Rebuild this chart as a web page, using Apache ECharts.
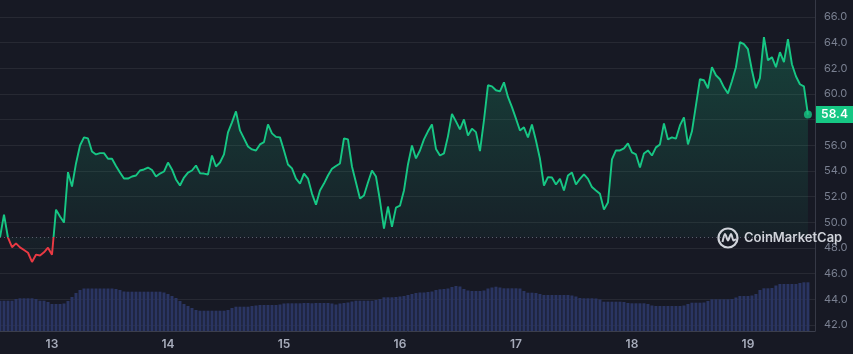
<!DOCTYPE html>
<html>
<head>
<meta charset="utf-8">
<title>Price chart</title>
<script src="https://cdn.jsdelivr.net/npm/echarts@6.0.0/dist/echarts.min.js"></script>
<style>
  html, body { margin: 0; padding: 0; background: #171924; }
  #main { width: 853px; height: 354px; }
</style>
</head>
<body>
<div id="main"></div>
<script>
// price, sampled evenly from first to last point
const prices = [
  48.83, 50.60, 48.80, 48.06, 48.36, 48.05, 47.84, 47.63, 46.91, 47.48,
  47.42, 47.66, 48.02, 47.48, 50.99, 50.45, 49.98, 53.91, 52.79, 54.59,
  55.99, 56.62, 56.54, 55.52, 55.29, 55.39, 55.39, 54.95, 54.95, 54.39,
  53.88, 53.41, 53.41, 53.57, 53.65, 54.04, 54.12, 54.27, 54.08, 53.57,
  53.80, 53.96, 54.66, 54.12, 53.34, 52.87, 53.49, 53.88, 54.04, 54.43,
  53.83, 53.80, 53.73, 55.21, 54.35, 54.66, 55.29, 57.01, 57.79, 58.65,
  57.16, 56.54, 55.91, 55.68, 55.60, 56.07, 56.25, 57.63, 56.93, 56.66,
  56.62, 55.60, 54.51, 54.20, 53.41, 53.02, 53.80, 53.41, 52.24, 51.38,
  52.48, 53.02, 53.65, 54.17, 54.39, 54.59, 56.54, 56.46, 54.35, 53.10,
  51.85, 52.09, 53.10, 54.04, 53.57, 51.70, 49.51, 51.23, 49.66, 51.15,
  51.30, 52.48, 54.51, 55.99, 54.98, 55.60, 56.46, 57.09, 57.63, 55.72,
  55.21, 55.37, 56.70, 58.45, 57.87, 57.24, 58.02, 56.77, 57.30, 57.03,
  55.55, 57.95, 60.68, 60.60, 60.29, 60.21, 60.91, 59.77, 58.98, 58.08,
  57.16, 57.40, 56.62, 57.63, 56.38, 54.95, 52.87, 53.52, 53.49, 52.95,
  53.39, 52.48, 53.65, 53.88, 52.95, 53.39, 53.73, 53.39, 52.75, 52.48,
  52.22, 50.99, 51.54, 54.90, 55.60, 55.60, 55.76, 56.15, 55.45, 55.29,
  54.27, 55.37, 55.60, 55.21, 55.84, 56.07, 57.71, 56.46, 56.62, 56.52,
  57.55, 58.18, 56.07, 57.09, 59.12, 61.15, 61.07, 60.45, 62.09, 61.46,
  61.15, 60.52, 60.05, 60.99, 62.09, 64.04, 63.88, 63.49, 61.85, 60.45,
  61.23, 64.43, 62.63, 62.87, 62.09, 63.26, 62.48, 64.27, 62.32, 61.38,
  60.76, 60.60, 58.40
]

// volume (relative units), same timestamps as prices
const volumes = [
  30.3, 30.3, 30.3, 30.3, 32, 32.7, 32.7, 32.7, 32.7, 32,
  30.3, 30.3, 29, 27, 27, 27, 27.5, 30, 34, 38,
  41, 42.5, 42.5, 42.5, 42.5, 42.5, 42.5, 42.5, 42.5, 42,
  41, 39.5, 39.3, 39.3, 39.3, 39.3, 39.3, 39.3, 39.3, 39.3,
  39.3, 38.5, 37, 35, 33, 30, 27, 25, 23, 21,
  20.3, 20.3, 20.3, 20.3, 20.3, 20.3, 20.3, 21, 23, 24.3,
  24.3, 24.3, 24.3, 25, 25.5, 26, 26, 26, 26, 26,
  26.5, 27.5, 27.7, 27.7, 27.7, 27.7, 28, 28, 27.7, 28,
  28, 28, 28, 27.5, 26.5, 27.5, 28, 28.5, 29.5, 30.3,
  30.3, 30.3, 30.3, 30.3, 31, 32, 33.7, 33.7, 33.7, 34,
  34.5, 35, 36, 37, 38, 38.5, 38.5, 39, 39.5, 41,
  41.7, 42, 42.5, 44, 45, 44.5, 42, 40.5, 40, 40,
  40, 40.5, 42.5, 43.5, 44.3, 43.5, 42.7, 42.7, 42.7, 42.7,
  42.5, 40, 38.3, 38.3, 38, 37, 36, 36, 36, 36,
  36, 36, 36, 35.5, 34.5, 33, 32.7, 32.7, 32.7, 32.5,
  31.5, 29.3, 29.3, 29.3, 29.3, 29.3, 29, 28, 27.7, 27.7,
  27.7, 27.7, 27, 25.5, 25, 25, 25, 25, 25, 25,
  25, 25.5, 27, 28.3, 28.3, 28.3, 28.5, 30, 31.7, 31.7,
  31.7, 31.7, 31.7, 32, 33.5, 35, 35, 35, 35.5, 37,
  41, 42.7, 42.7, 43, 45.5, 47, 47, 47, 47, 47,
  48, 48.7, 48.7
]

const dayLabels = [13, 14, 15, 16, 17, 18, 19]
const startDay = 12.552 // first sample (day of month)
const endDay = 19.517 // last sample
const axisEnd = 19.578 // right edge of the plot
const openPrice = prices[0]

const stepDay = (endDay - startDay) / (prices.length - 1)
const priceData = prices.map((p, i) => [startDay + i * stepDay, p])
const volumeData = volumes.map((v, i) => [startDay + i * stepDay, v])
const last = priceData[priceData.length - 1]

const chart = echarts.init(document.getElementById('main'))

const option = {
  backgroundColor: '#171924',
  animation: false,
  textStyle: { fontFamily: 'Inter' },
  grid: [
    // price area
    { left: 0, right: 38, top: 17, bottom: 29, outerBoundsMode: 'none' },
    // volume + frame
    { left: 0, right: 38, top: 0, bottom: 23, outerBoundsMode: 'none' }
  ],
  xAxis: [
    { type: 'value', gridIndex: 0, min: startDay, max: axisEnd, show: false },
    {
      type: 'value',
      gridIndex: 1,
      min: startDay,
      max: axisEnd,
      axisLine: { show: true, lineStyle: { color: '#3b3e4c' } },
      axisTick: { show: false },
      splitLine: { show: false },
      axisLabel: {
        customValues: dayLabels,
        color: '#a7acbb',
        fontSize: 12,
        fontWeight: 600,
        margin: 7
      }
    }
  ],
  yAxis: [
    {
      type: 'value',
      gridIndex: 0,
      position: 'right',
      min: 42,
      max: 66,
      interval: 2,
      axisLine: { show: false },
      axisTick: { show: false },
      splitLine: { lineStyle: { color: 'rgba(255,255,255,0.07)' } },
      axisLabel: {
        color: '#7a8091',
        fontSize: 11,
        margin: 9,
        formatter: v => v.toFixed(1)
      }
    },
    {
      type: 'value',
      gridIndex: 1,
      position: 'right',
      min: 0,
      max: 331,
      axisLine: { show: true, lineStyle: { color: '#363946' } },
      axisTick: { show: false },
      axisLabel: { show: false },
      splitLine: { show: false }
    }
  ],
  // red below the opening price, green above (finite bounds so the line gets colour stops)
  visualMap: {
    show: false,
    type: 'piecewise',
    seriesIndex: 0,
    dimension: 1,
    pieces: [
      { gte: 0, lt: openPrice, color: '#ea3943' },
      { gte: openPrice, lte: 1000, color: '#16c784' }
    ]
  },
  series: [
    {
      name: 'Price',
      type: 'line',
      xAxisIndex: 0,
      yAxisIndex: 0,
      data: priceData,
      showSymbol: false,
      lineStyle: { width: 1.9 },
      areaStyle: {
        origin: openPrice,
        color: new echarts.graphic.LinearGradient(0, 0, 0, 1, [
          { offset: 0, color: 'rgba(22,199,132,0.33)' },
          { offset: 1, color: 'rgba(22,199,132,0.03)' }
        ])
      },
      markLine: {
        silent: true,
        symbol: 'none',
        label: { show: false },
        lineStyle: { color: '#5b5f6e', type: [1, 3], width: 1 },
        data: [{ yAxis: openPrice }]
      },
      z: 3
    },
    {
      name: 'Last',
      type: 'scatter',
      xAxisIndex: 0,
      yAxisIndex: 0,
      data: [last],
      symbolSize: 8,
      itemStyle: { color: '#16c784' },
      z: 4
    },
    {
      name: 'Volume',
      type: 'bar',
      xAxisIndex: 1,
      yAxisIndex: 1,
      data: volumeData,
      barWidth: 3,
      itemStyle: { color: '#2a3562' },
      z: 1
    }
  ]
}
chart.setOption(option)

// price tag on the right axis + watermark
const tagY = chart.convertToPixel({ yAxisIndex: 0 }, last[1])
chart.setOption({
  graphic: [
    {
      type: 'rect',
      shape: { x: 816, y: tagY - 8.5, width: 37, height: 17 },
      style: { fill: '#16c784' },
      z: 100
    },
    {
      type: 'text',
      x: 834.5,
      y: tagY,
      style: {
        text: last[1].toFixed(1),
        fill: '#ffffff',
        font: '600 12px Inter',
        align: 'center',
        verticalAlign: 'middle'
      },
      z: 101
    },
    {
      type: 'circle',
      shape: { cx: 728, cy: 238, r: 9.5 },
      style: { fill: 'none', stroke: '#d0d3da', lineWidth: 2.2 },
      z: 100
    },
    {
      type: 'polyline',
      shape: {
        points: [[722.5, 242], [725, 234], [728, 240.5], [731, 234], [733.5, 240.5], [736, 239]],
        smooth: 0.3
      },
      style: { fill: 'none', stroke: '#d0d3da', lineWidth: 2 },
      z: 100
    },
    {
      type: 'text',
      x: 744,
      y: 238.5,
      style: {
        text: 'CoinMarketCap',
        fill: '#d0d3da',
        font: '600 13px Inter',
        verticalAlign: 'middle'
      },
      z: 100
    }
  ]
})
</script>
</body>
</html>
